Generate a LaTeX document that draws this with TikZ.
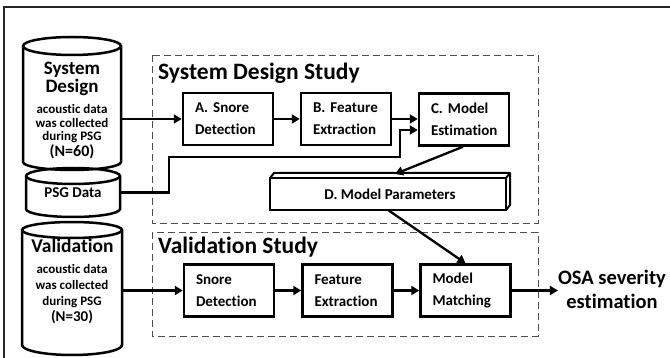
\documentclass[tikz,border=0pt]{standalone}
\usepackage{fontspec}
\setmainfont{Carlito}[Ligatures=NoCommon, RawFeature={-calt}]
\usetikzlibrary{calc,arrows.meta}
\newcommand\fsz[2]{\fontsize{#1}{#2}\selectfont}
\begin{document}
\begin{tikzpicture}[x=1pt,y=-1pt,
  blk/.style={draw, line width=2.5pt, minimum width=90pt, minimum height=52pt, inner sep=0pt,
    align=left, text width=66pt, font=\bfseries\fsz{15}{22}},
  arr/.style={line width=2.3pt, -{Triangle[length=8pt,width=9pt]}},
  cyl/.style={line width=2.5pt},
  area/.style={draw=black!70, line width=0.9pt, dash pattern=on 7pt off 4pt},
  big/.style={font=\bfseries\fsz{19}{22}, anchor=base, inner sep=0pt},
  small/.style={font=\bfseries\fsz{13}{15}, anchor=base, inner sep=0pt},
  title/.style={font=\bfseries\fsz{23.5}{26}, anchor=base west, inner sep=0pt},
  hole/.style={inner sep=0pt, outer sep=0pt}]
\useasboundingbox (0,0) rectangle (670,358);
% outer frame (only left and top edges visible)
\draw[line width=1.5pt, black!85] (4,360) -- (4,7) -- (672,7);

% dashed study areas
\draw[area] (152,55) rectangle (538,223);
\draw[area] (152,232) rectangle (538,336);
\node[title] (t1) at (158,80) {System Design Study};
\node[title] (t2) at (158,254) {Validation Study};

% cylinders
\draw[cyl] (23,46) -- (23,162) arc[start angle=180,end angle=360,x radius=49pt,y radius=8pt]
  -- (121,46) arc[start angle=0,end angle=180,x radius=49pt,y radius=9pt] -- cycle;
\draw[cyl] (23,46) arc[start angle=180,end angle=360,x radius=49pt,y radius=9pt];
\draw[cyl] (26,176) -- (26,209) arc[start angle=180,end angle=360,x radius=47pt,y radius=8pt]
  -- (120,176) arc[start angle=0,end angle=180,x radius=47pt,y radius=8pt] -- cycle;
\draw[cyl] (26,176) arc[start angle=180,end angle=360,x radius=47pt,y radius=8pt];
\draw[cyl] (22,230) -- (22,345) arc[start angle=180,end angle=360,x radius=50pt,y radius=10pt]
  -- (122,230) arc[start angle=0,end angle=180,x radius=50pt,y radius=8pt] -- cycle;
\draw[cyl] (22,230) arc[start angle=180,end angle=360,x radius=50pt,y radius=8pt];

\node[hole, minimum width=98pt, minimum height=116pt] (sd) at (72,104) {};
\node[hole, minimum width=94pt, minimum height=33pt] (psg) at (73,192.5) {};
\node[hole, minimum width=100pt, minimum height=115pt] (val) at (72,287.5) {};

\node[big] (sd1) at (72,75) {System};
\node[big] (sd2) at (72,93) {Design};
\node[small] (sd3) at (72,114) {acoustic data};
\node[small] (sd4) at (72,128) {was collected};
\node[small] (sd5) at (72,141) {during PSG};
\node[big, font=\bfseries\fsz{16}{18}] (sd6) at (72,157) {(N=60)};
\node[big, font=\bfseries\fsz{15}{18}] (psgt) at (73,198) {PSG Data};
\node[big, font=\bfseries\fsz{19.5}{22}] (v1) at (72.5,253) {Validation};
\node[small] (v2) at (72,274) {acoustic data};
\node[small] (v3) at (72,290) {was collected};
\node[small] (v4) at (72,306) {during PSG};
\node[big, font=\bfseries\fsz{15}{18}] (v5) at (72,322) {(N=30)};

% system design blocks
\node[blk] (A) at (228,119) {A. Snore\\Detection};
\node[blk] (B) at (346,119) {B. Feature\\Extraction};
\node[blk] (C) at (464,119.5) {C. Model\\Estimation};
% model parameters (3D bar)
\node[draw, line width=2.5pt, minimum width=236pt, minimum height=32pt, inner sep=0pt, outer sep=0pt,
  font=\bfseries\fsz{15}{18}] (D) at (388,194) {\hspace*{4pt}D. Model Parameters};
\draw[line width=2pt, line join=round] (D.north west) -- ++(4,-5) -- ($(D.north east)+(4,-5)$) -- (D.north east);
\draw[line width=2pt, line join=round] ($(D.north east)+(4,-5)$) -- ($(D.south east)+(4,-5)$) -- (D.south east);
% validation blocks
\node[blk] (S2) at (229,290.5) {Snore\\Detection};
\node[blk] (F2) at (347.5,290.5) {Feature\\Extraction};
\node[blk] (M2) at (465.5,290.5) {Model\\Matching};
\node[font=\bfseries\fsz{20.5}{24}, align=center, inner sep=0pt] (osa) at (612,289.5) {OSA severity\\estimation};

% connectors
\draw[arr] (sd.east |- A.west) -- (A.west);
\draw[arr] (A) -- (B);
\draw[arr] (B.east) -- (B.east -| C.west);
\coordinate (pa) at (169,157);
\coordinate (pb) at (400,157);
\draw[arr] (psg.east) -| (pa) -- (pb) |- ($(C.west)+(0,10.5)$);
\draw[arr] ($(C.south)+(-1,0)$) -- ($(D.north)+(7,-4)$);
\draw[arr] (D.south) -- (M2.north);
\draw[arr] (val.east |- S2.west) -- (S2.west);
\draw[arr] (S2) -- (F2);
\draw[arr] (F2) -- (M2);
\draw[arr] (M2.east) -- (M2.east -| osa.west);
\end{tikzpicture}
\end{document}
